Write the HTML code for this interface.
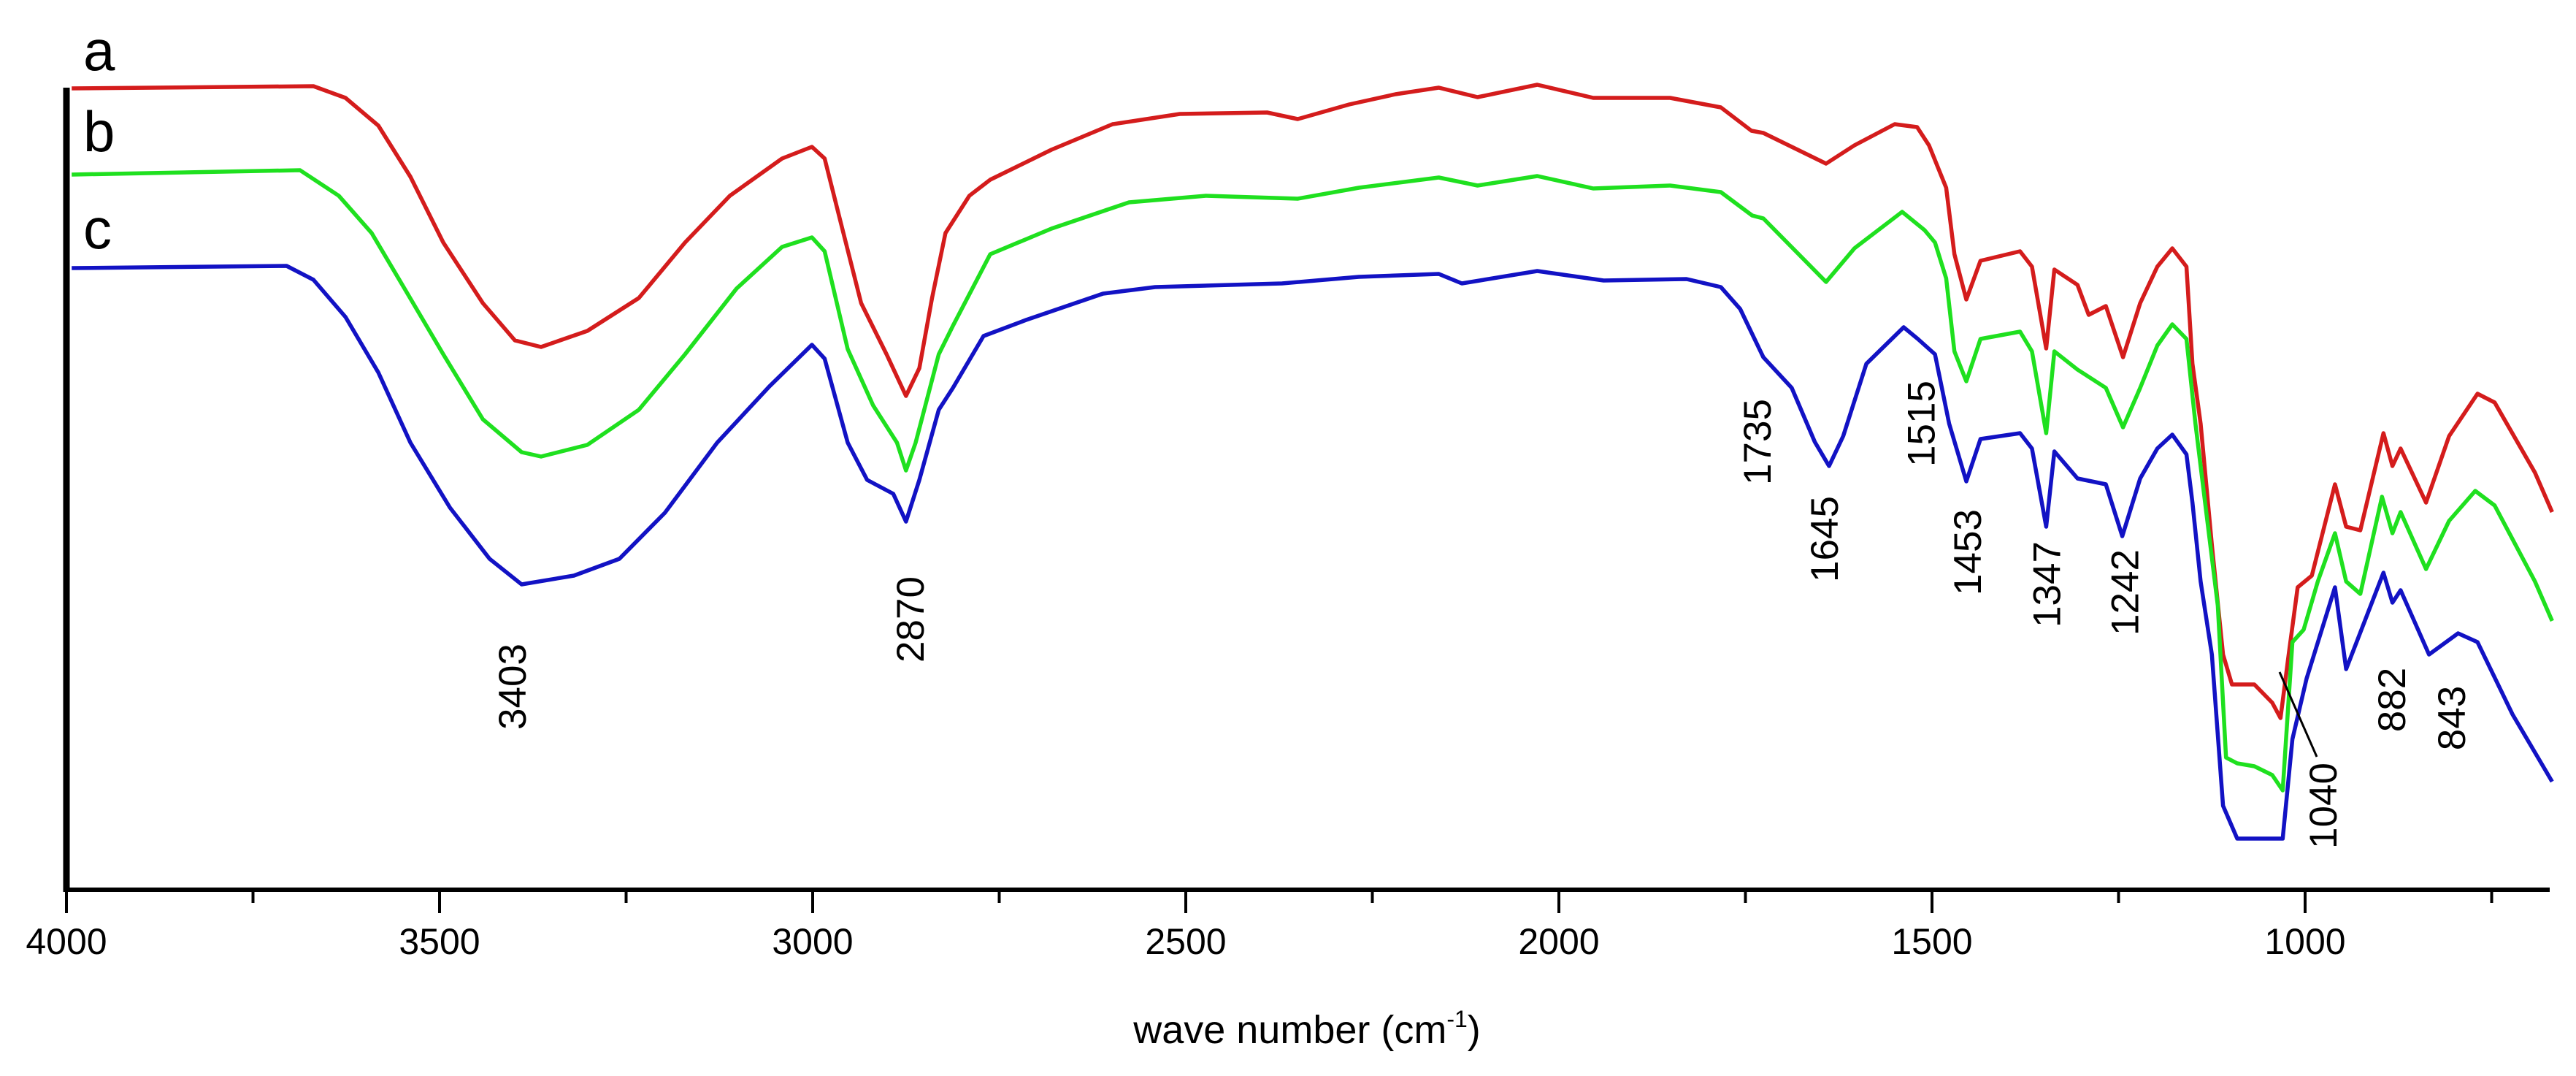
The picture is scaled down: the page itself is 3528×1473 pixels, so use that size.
<!DOCTYPE html>
<html><head><meta charset="utf-8"><style>
html,body{margin:0;padding:0;background:#fff;}
svg{display:block;}
text{font-family:"Liberation Sans",Arial,sans-serif;fill:#000;}
</style></head><body>
<svg id="chart" width="3528" height="1473" viewBox="0 0 3528 1473" xmlns="http://www.w3.org/2000/svg">
<g id="plot"></g>
</svg>
<script>
// ---- data (wavenumber cm-1, relative transmittance height) ----
const redWn = [3993,3669,3626,3582,3539,3495,3442,3399,3364,3302,3233,3171,3111,3041,3001,2984,2962,2935,2901,2875,2857,2840,2822,2790,2762,2680,2598,2508,2391,2350,2281,2219,2161,2109,2029,1954,1851,1783,1742,1726,1642,1604,1550,1520,1504,1481,1470,1454,1435,1382,1366,1347,1336,1305,1290,1267,1244,1221,1198,1178,1159,1151,1140,1125,1110,1098,1068,1044,1033,1022,1010,991,960,945,926,895,883,872,838,807,769,746,692,669];
const redT = [1097,1100,1084,1046,976,886,803,752,743,765,810,886,950,1001,1017,1001,912,803,733,676,714,810,899,950,972,1013,1048,1062,1064,1055,1075,1089,1098,1085,1102,1084,1084,1071,1039,1036,994,1019,1048,1044,1019,961,870,808,861,874,853,741,849,828,787,799,729,803,853,878,853,720,638,472,322,281,281,256,235,322,414,430,555,497,492,625,580,604,530,621,679,667,571,517];
const greenWn = [3993,3687,3635,3591,3547,3495,3442,3390,3364,3302,3233,3171,3102,3041,3001,2984,2953,2919,2887,2875,2862,2831,2812,2762,2680,2576,2473,2350,2268,2161,2109,2029,1954,1851,1783,1741,1726,1642,1604,1540,1510,1496,1481,1470,1454,1435,1382,1366,1347,1336,1305,1267,1244,1221,1198,1178,1159,1147,1132,1117,1106,1091,1068,1044,1030,1017,1002,983,960,945,926,897,883,872,838,807,772,746,692,669];
const greenT = [979,985,950,899,823,733,644,599,593,609,657,733,823,880,893,874,740,663,612,574,612,733,772,870,905,941,950,946,961,975,964,977,960,964,955,923,919,832,878,928,903,886,837,737,696,754,764,737,625,737,712,687,633,687,745,774,754,638,513,389,181,173,169,157,136,339,356,422,488,422,405,538,488,517,439,505,546,526,422,368];
const blueWn = [3993,3705,3669,3626,3582,3539,3486,3433,3390,3320,3259,3198,3128,3058,3001,2984,2953,2927,2892,2875,2857,2831,2812,2771,2714,2611,2541,2371,2268,2161,2130,2029,1940,1829,1783,1757,1726,1688,1657,1638,1619,1588,1538,1519,1496,1477,1454,1435,1382,1366,1347,1336,1305,1267,1245,1221,1198,1178,1159,1151,1140,1125,1110,1091,1030,1017,998,960,945,895,883,872,834,795,769,722,669];
const blueT = [851,854,835,784,708,612,523,453,418,430,453,516,612,689,746,727,612,561,542,504,561,657,687,758,780,816,825,830,839,843,830,847,834,836,825,795,729,687,613,580,621,720,770,754,733,638,559,617,625,604,497,600,563,555,484,563,604,623,596,530,422,322,115,70,70,206,289,414,302,434,393,410,322,351,339,240,148];
const xTicks = [4000,3500,3000,2500,2000,1500,1000];
const xTickLabels = ["4000","3500","3000","2500","2000","1500","1000"];
const minorTicks = [3750,3250,2750,2250,1750,1250,750];
const peakWn = [3403,2870,1735,1645,1515,1453,1347,1242,1040,882,843];
const peakLabels = ["3403","2870","1735","1645","1515","1453","1347","1242","1040","882","843"];

// ---- scales ----
const X0 = 91, PXU = 1.022, BASE = 1218;
function xs(w){ return X0 + (4000 - w) * PXU; }
function ys(t){ return BASE - t; }

const NS = "http://www.w3.org/2000/svg";
const g = document.getElementById('plot');
function mk(tag, attrs){ const e = document.createElementNS(NS, tag); for (const k in attrs) e.setAttribute(k, attrs[k]); g.appendChild(e); return e; }

// axes
const yAxis = mk('line', {x1: X0, y1: 120, x2: X0, y2: BASE+3, stroke:'#000', 'stroke-width':9});


const xAxis = mk('line', {x1: X0-4, y1: BASE, x2: 3492, y2: BASE, stroke:'#000', 'stroke-width':6});



xTicks.forEach((w,i)=>{
  const t = mk('line', {x1: xs(w), y1: BASE, x2: xs(w), y2: BASE+32, stroke:'#000', 'stroke-width':4});
  
  
  const lb = mk('text', {x: xs(w), y: 1306, 'font-size':50, 'text-anchor':'middle'});
  lb.textContent = xTickLabels[i];
  
  
});
minorTicks.forEach(w=>{
  const t = mk('line', {x1: xs(w), y1: BASE, x2: xs(w), y2: BASE+18, stroke:'#000', 'stroke-width':4});
  
  
});

const title = mk('text', {x: 1790, y: 1428, 'font-size':54, 'text-anchor':'middle'});
title.innerHTML = 'wave number (cm<tspan dy="-22" font-size="32">-1</tspan><tspan dy="22">)</tspan>';



// series
function series(wn, t, color, name){
  const pts = wn.map((w,i)=> xs(w).toFixed(1)+','+ys(t[i]).toFixed(1)).join(' ');
  const p = mk('polyline', {points: pts, fill:'none', stroke: color, 'stroke-width':5.5, 'stroke-linejoin':'round'});
  
  
}
series(redWn, redT, '#d41c1c', 'series-a-line');
series(greenWn, greenT, '#1fe01f', 'series-b-line');
series(blueWn, blueT, '#1212c4', 'series-c-line');

// curve labels
[['a',96],['b',207],['c',340]].forEach(([s,y])=>{
  const t = mk('text', {x: 114, y: y, 'font-size':78});
  t.textContent = s;
  
  
});

// peak annotations (label centre y in px)
const peakY = [940,848,605,738,580,756,800,811,1103,958,983];
peakWn.forEach((w,i)=>{
  let x = xs(w);
  if (peakLabels[i]==='1040') x = 3181;
  if (peakLabels[i]==='882') x = 3275;
  if (peakLabels[i]==='843') x = 3357;
  const t = mk('text', {x: 0, y: 0, 'font-size':53, 'text-anchor':'middle', transform:`translate(${(x+19).toFixed(1)},${peakY[i]}) rotate(-90)`});
  t.textContent = peakLabels[i];
  
  
});
const lead = mk('line', {x1: 3122, y1: 920, x2: 3173, y2: 1036, stroke:'#000', 'stroke-width':3});


</script>
</body></html>
